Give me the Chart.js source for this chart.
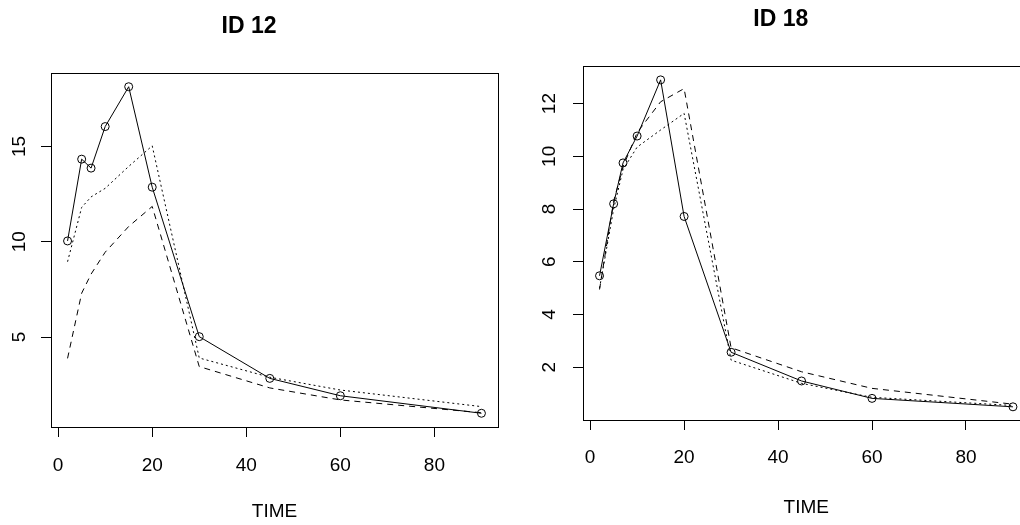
<!DOCTYPE html>
<html><head><meta charset="utf-8">
<script src="https://cdn.jsdelivr.net/npm/chart.js@4.4.0/dist/chart.umd.min.js"></script>
<style>
html,body{margin:0;padding:0;background:#fff;overflow:hidden;width:1020px;height:525px;position:relative;}
#c1{position:absolute;left:0;top:0;}
#c2{position:absolute;left:532px;top:0;}
</style></head><body>
<canvas id="c1" width="510" height="525"></canvas>
<canvas id="c2" width="510" height="525"></canvas>
<script>
const times = [2, 5, 7, 10, 15, 20, 30, 45, 60, 90];
const xTicks = [0, 20, 40, 60, 80];
const id12Obs    = [10.04, 14.33, 13.86, 16.04, 18.13, 12.86, 5.02, 2.83, 1.92, 1.00];
const id12Dotted = [8.95, 11.80, 12.35, 12.80, 13.95, 15.03, 3.90, 2.89, 2.22, 1.35];
const id12Dashed = [3.88, 7.30, 8.30, 9.45, 10.80, 11.85, 3.45, 2.33, 1.70, 1.03];
const id12YTicks = [5, 10, 15];
const id18Obs    = [5.47, 8.20, 9.75, 10.77, 12.90, 7.72, 2.57, 1.48, 0.82, 0.50];
const id18Dotted = [5.00, 8.00, 9.50, 10.35, 11.00, 11.63, 2.27, 1.39, 0.86, 0.55];
const id18Dashed = [4.95, 8.30, 9.60, 10.90, 12.07, 12.57, 2.74, 1.83, 1.20, 0.60];
const id18YTicks = [2, 4, 6, 8, 10, 12];

const FONT = '"Liberation Sans", Arial, Helvetica, sans-serif';

function align(p){ return Math.round(p - 0.5) + 0.5; }
const framePlugin = {
  id: 'frame',
  afterDraw(chart) {
    const a = chart.chartArea, ctx = chart.ctx;
    ctx.save();
    ctx.strokeStyle = '#000';
    ctx.lineWidth = 1;
    const l = align(a.left), t = align(a.top), r = align(a.right), b = align(a.bottom);
    ctx.strokeRect(l, t, r - l, b - t);
    ctx.restore();
  }
};

function pts(vals){ return times.map((t, i) => ({x: t, y: vals[i]})); }

function makeChart(id, p) {
  return new Chart(document.getElementById(id), {
    type: 'line',
    data: {
      datasets: [
        { data: pts(p.obs), borderColor: '#000', borderWidth: 1, pointRadius: 4, pointHoverRadius: 4,
          pointBorderColor: '#000', pointBackgroundColor: 'rgba(0,0,0,0)', pointBorderWidth: 1, tension: 0 },
        { data: pts(p.dotted), borderColor: '#000', borderWidth: 1, borderDash: [2, 3], pointRadius: 0, tension: 0 },
        { data: pts(p.dashed), borderColor: '#000', borderWidth: 1, borderDash: [6, 5], pointRadius: 0, tension: 0 }
      ]
    },
    options: {
      responsive: false,
      animation: false,
      events: [],
      layout: { padding: { left: 0, right: p.padRight, top: 0, bottom: 0 } },
      plugins: {
        legend: { display: false },
        tooltip: { enabled: false },
        title: { display: true, text: p.title, color: '#000',
          font: { family: FONT, size: 23, weight: 'bold', lineHeight: 1.2 },
          padding: { top: p.titleTop, bottom: p.titleBottom } }
      },
      scales: {
        x: {
          type: 'linear', min: -1.52, max: 93.52,
          afterBuildTicks(s) { s.ticks = xTicks.map(v => ({ value: v })); },
          afterFit(s) { s.height = p.xHeight; },
          grid: { drawOnChartArea: false, drawTicks: true, tickLength: 10, color: '#000', lineWidth: 1 },
          border: { display: true, color: '#000', width: 1 },
          ticks: { color: '#000', font: { family: FONT, size: 19 }, padding: p.xPad, maxRotation: 0, autoSkip: false },
          title: { display: true, text: 'TIME', color: '#000', font: { family: FONT, size: 19, lineHeight: 1.2 },
            padding: { top: 0, bottom: p.timePad } }
        },
        y: {
          type: 'linear', min: p.yMin, max: p.yMax,
          afterBuildTicks(s) { s.ticks = p.yTicks.map(v => ({ value: v })); },
          afterFit(s) { s.width = 51; },
          grid: { drawOnChartArea: false, drawTicks: true, tickLength: 10, color: '#000', lineWidth: 1 },
          border: { display: true, color: '#000', width: 1 },
          ticks: { color: '#000', font: { family: FONT, size: 19 }, padding: p.yPad, minRotation: 90, maxRotation: 90,
            crossAlign: 'center', autoSkip: false }
        }
      }
    },
    plugins: [framePlugin]
  });
}

makeChart('c1', {
  title: 'ID 12', obs: id12Obs, dotted: id12Dotted, dashed: id12Dashed, yTicks: id12YTicks,
  yMin: 0.28, yMax: 18.85, padRight: 12, titleTop: 13.2, titleBottom: 32.2,
  xHeight: 98, xPad: 17.6, timePad: 1.6, yPad: 10.4
});
makeChart('c2', {
  title: 'ID 18', obs: id18Obs, dotted: id18Dotted, dashed: id18Dashed, yTicks: id18YTicks,
  yMin: 0.0, yMax: 13.4, padRight: 12.5, titleTop: 6.2, titleBottom: 32.9,
  xHeight: 105, xPad: 16.6, timePad: 5.6, yPad: 12.4
});
</script>
</body></html>
